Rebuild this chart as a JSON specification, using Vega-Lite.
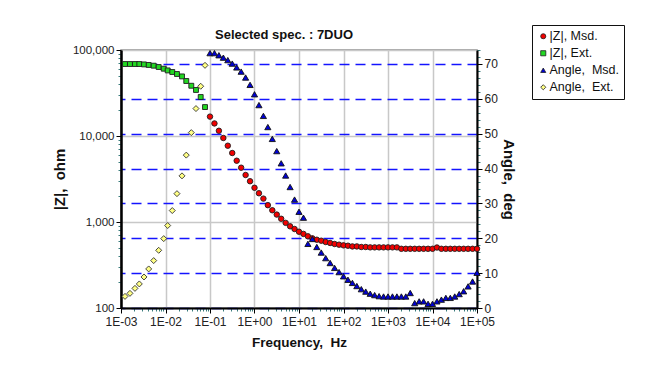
{
  "$schema": "https://vega.github.io/schema/vega-lite/v6.json",
  "width": 356,
  "height": 258,
  "autosize": {"type": "none"},
  "padding": {"left": 121, "top": 50, "right": 186, "bottom": 66},
  "background": "white",
  "title": {"text": "Selected spec. : 7DUO", "font": "Liberation Sans", "fontSize": 13, "fontWeight": "bold", "color": "#111111", "anchor": "middle", "dx": -15, "dy": 26, "offset": 9},
  "data": {"values": [
    {"f": 0.00123, "v": 68700, "s": "|Z|, Ext."},
    {"f": 0.00159, "v": 68700, "s": "|Z|, Ext."},
    {"f": 0.00206, "v": 68700, "s": "|Z|, Ext."},
    {"f": 0.00258, "v": 68700, "s": "|Z|, Ext."},
    {"f": 0.00329, "v": 68000, "s": "|Z|, Ext."},
    {"f": 0.00419, "v": 67000, "s": "|Z|, Ext."},
    {"f": 0.00543, "v": 65700, "s": "|Z|, Ext."},
    {"f": 0.00703, "v": 63400, "s": "|Z|, Ext."},
    {"f": 0.00912, "v": 60600, "s": "|Z|, Ext."},
    {"f": 0.0112, "v": 57900, "s": "|Z|, Ext."},
    {"f": 0.0142, "v": 55500, "s": "|Z|, Ext."},
    {"f": 0.0181, "v": 52600, "s": "|Z|, Ext."},
    {"f": 0.0235, "v": 49300, "s": "|Z|, Ext."},
    {"f": 0.0293, "v": 43600, "s": "|Z|, Ext."},
    {"f": 0.038, "v": 38400, "s": "|Z|, Ext."},
    {"f": 0.0484, "v": 34300, "s": "|Z|, Ext."},
    {"f": 0.0618, "v": 28400, "s": "|Z|, Ext."},
    {"f": 0.0773, "v": 21700, "s": "|Z|, Ext."},

    {"f": 0.00123, "v": 3.33, "s": "Angle, \u00a0Ext."},
    {"f": 0.00159, "v": 4.2, "s": "Angle, \u00a0Ext."},
    {"f": 0.00206, "v": 5.63, "s": "Angle, \u00a0Ext."},
    {"f": 0.00258, "v": 6.9, "s": "Angle, \u00a0Ext."},
    {"f": 0.00329, "v": 8.9, "s": "Angle, \u00a0Ext."},
    {"f": 0.00419, "v": 11.2, "s": "Angle, \u00a0Ext."},
    {"f": 0.00543, "v": 13.6, "s": "Angle, \u00a0Ext."},
    {"f": 0.00703, "v": 16.55, "s": "Angle, \u00a0Ext."},
    {"f": 0.00912, "v": 19.9, "s": "Angle, \u00a0Ext."},
    {"f": 0.0112, "v": 23.65, "s": "Angle, \u00a0Ext."},
    {"f": 0.0142, "v": 27.95, "s": "Angle, \u00a0Ext."},
    {"f": 0.0181, "v": 32.8, "s": "Angle, \u00a0Ext."},
    {"f": 0.0235, "v": 37.9, "s": "Angle, \u00a0Ext."},
    {"f": 0.0293, "v": 43.85, "s": "Angle, \u00a0Ext."},
    {"f": 0.038, "v": 50.3, "s": "Angle, \u00a0Ext."},
    {"f": 0.0484, "v": 57.2, "s": "Angle, \u00a0Ext."},
    {"f": 0.0618, "v": 63.6, "s": "Angle, \u00a0Ext."},
    {"f": 0.0773, "v": 69.6, "s": "Angle, \u00a0Ext."},

    {"f": 0.1, "v": 16800, "s": "|Z|, Msd."},
    {"f": 0.1259, "v": 14000, "s": "|Z|, Msd."},
    {"f": 0.1585, "v": 11500, "s": "|Z|, Msd."},
    {"f": 0.1995, "v": 9480, "s": "|Z|, Msd."},
    {"f": 0.2512, "v": 7710, "s": "|Z|, Msd."},
    {"f": 0.3162, "v": 6340, "s": "|Z|, Msd."},
    {"f": 0.3981, "v": 5160, "s": "|Z|, Msd."},
    {"f": 0.5012, "v": 4280, "s": "|Z|, Msd."},
    {"f": 0.631, "v": 3520, "s": "|Z|, Msd."},
    {"f": 0.7943, "v": 2980, "s": "|Z|, Msd."},
    {"f": 1, "v": 2500, "s": "|Z|, Msd."},
    {"f": 1.259, "v": 2160, "s": "|Z|, Msd."},
    {"f": 1.585, "v": 1870, "s": "|Z|, Msd."},
    {"f": 1.995, "v": 1570, "s": "|Z|, Msd."},
    {"f": 2.512, "v": 1370, "s": "|Z|, Msd."},
    {"f": 3.162, "v": 1220, "s": "|Z|, Msd."},
    {"f": 3.981, "v": 1090, "s": "|Z|, Msd."},
    {"f": 5.012, "v": 977, "s": "|Z|, Msd."},
    {"f": 6.31, "v": 891, "s": "|Z|, Msd."},
    {"f": 7.943, "v": 829, "s": "|Z|, Msd."},
    {"f": 10, "v": 771, "s": "|Z|, Msd."},
    {"f": 12.59, "v": 727, "s": "|Z|, Msd."},
    {"f": 15.85, "v": 682, "s": "|Z|, Msd."},
    {"f": 19.95, "v": 646, "s": "|Z|, Msd."},
    {"f": 25.12, "v": 622, "s": "|Z|, Msd."},
    {"f": 31.62, "v": 606, "s": "|Z|, Msd."},
    {"f": 39.81, "v": 585, "s": "|Z|, Msd."},
    {"f": 50.12, "v": 570, "s": "|Z|, Msd."},
    {"f": 63.1, "v": 555, "s": "|Z|, Msd."},
    {"f": 79.43, "v": 545, "s": "|Z|, Msd."},
    {"f": 100, "v": 535, "s": "|Z|, Msd."},
    {"f": 125.9, "v": 530, "s": "|Z|, Msd."},
    {"f": 158.5, "v": 520, "s": "|Z|, Msd."},
    {"f": 199.5, "v": 520, "s": "|Z|, Msd."},
    {"f": 251.2, "v": 512, "s": "|Z|, Msd."},
    {"f": 316.2, "v": 512, "s": "|Z|, Msd."},
    {"f": 398.1, "v": 507, "s": "|Z|, Msd."},
    {"f": 501.2, "v": 507, "s": "|Z|, Msd."},
    {"f": 631, "v": 507, "s": "|Z|, Msd."},
    {"f": 794.3, "v": 507, "s": "|Z|, Msd."},
    {"f": 1000, "v": 507, "s": "|Z|, Msd."},
    {"f": 1259, "v": 507, "s": "|Z|, Msd."},
    {"f": 1585, "v": 507, "s": "|Z|, Msd."},
    {"f": 1995, "v": 488, "s": "|Z|, Msd."},
    {"f": 2512, "v": 488, "s": "|Z|, Msd."},
    {"f": 3162, "v": 488, "s": "|Z|, Msd."},
    {"f": 3981, "v": 488, "s": "|Z|, Msd."},
    {"f": 5012, "v": 488, "s": "|Z|, Msd."},
    {"f": 6310, "v": 488, "s": "|Z|, Msd."},
    {"f": 7943, "v": 488, "s": "|Z|, Msd."},
    {"f": 10000, "v": 488, "s": "|Z|, Msd."},
    {"f": 12589, "v": 505, "s": "|Z|, Msd."},
    {"f": 15849, "v": 488, "s": "|Z|, Msd."},
    {"f": 19953, "v": 488, "s": "|Z|, Msd."},
    {"f": 25119, "v": 488, "s": "|Z|, Msd."},
    {"f": 31623, "v": 488, "s": "|Z|, Msd."},
    {"f": 39811, "v": 488, "s": "|Z|, Msd."},
    {"f": 50119, "v": 488, "s": "|Z|, Msd."},
    {"f": 63096, "v": 488, "s": "|Z|, Msd."},
    {"f": 79433, "v": 488, "s": "|Z|, Msd."},
    {"f": 100000, "v": 488, "s": "|Z|, Msd."},

    {"f": 0.1, "v": 73.1, "s": "Angle, \u00a0Msd."},
    {"f": 0.1259, "v": 73.1, "s": "Angle, \u00a0Msd."},
    {"f": 0.1585, "v": 72.5, "s": "Angle, \u00a0Msd."},
    {"f": 0.1995, "v": 71.8, "s": "Angle, \u00a0Msd."},
    {"f": 0.2512, "v": 71.1, "s": "Angle, \u00a0Msd."},
    {"f": 0.3162, "v": 70.1, "s": "Angle, \u00a0Msd."},
    {"f": 0.3981, "v": 69.0, "s": "Angle, \u00a0Msd."},
    {"f": 0.5012, "v": 67.8, "s": "Angle, \u00a0Msd."},
    {"f": 0.631, "v": 66.1, "s": "Angle, \u00a0Msd."},
    {"f": 0.7943, "v": 64.0, "s": "Angle, \u00a0Msd."},
    {"f": 1, "v": 61.3, "s": "Angle, \u00a0Msd."},
    {"f": 1.259, "v": 58.2, "s": "Angle, \u00a0Msd."},
    {"f": 1.585, "v": 55.1, "s": "Angle, \u00a0Msd."},
    {"f": 1.995, "v": 51.9, "s": "Angle, \u00a0Msd."},
    {"f": 2.512, "v": 48.5, "s": "Angle, \u00a0Msd."},
    {"f": 3.162, "v": 45.0, "s": "Angle, \u00a0Msd."},
    {"f": 3.981, "v": 41.5, "s": "Angle, \u00a0Msd."},
    {"f": 5.012, "v": 38.0, "s": "Angle, \u00a0Msd."},
    {"f": 6.31, "v": 34.7, "s": "Angle, \u00a0Msd."},
    {"f": 7.943, "v": 31.1, "s": "Angle, \u00a0Msd."},
    {"f": 10, "v": 27.6, "s": "Angle, \u00a0Msd."},
    {"f": 12.59, "v": 25.9, "s": "Angle, \u00a0Msd."},
    {"f": 15.85, "v": 18.4, "s": "Angle, \u00a0Msd."},
    {"f": 19.95, "v": 19.8, "s": "Angle, \u00a0Msd."},
    {"f": 25.12, "v": 17.5, "s": "Angle, \u00a0Msd."},
    {"f": 31.62, "v": 15.9, "s": "Angle, \u00a0Msd."},
    {"f": 39.81, "v": 14.3, "s": "Angle, \u00a0Msd."},
    {"f": 50.12, "v": 12.9, "s": "Angle, \u00a0Msd."},
    {"f": 63.1, "v": 11.5, "s": "Angle, \u00a0Msd."},
    {"f": 79.43, "v": 10.3, "s": "Angle, \u00a0Msd."},
    {"f": 100, "v": 9.1, "s": "Angle, \u00a0Msd."},
    {"f": 125.9, "v": 8.1, "s": "Angle, \u00a0Msd."},
    {"f": 158.5, "v": 7.2, "s": "Angle, \u00a0Msd."},
    {"f": 199.5, "v": 6.3, "s": "Angle, \u00a0Msd."},
    {"f": 251.2, "v": 5.4, "s": "Angle, \u00a0Msd."},
    {"f": 316.2, "v": 4.7, "s": "Angle, \u00a0Msd."},
    {"f": 398.1, "v": 4.1, "s": "Angle, \u00a0Msd."},
    {"f": 501.2, "v": 3.7, "s": "Angle, \u00a0Msd."},
    {"f": 631, "v": 3.4, "s": "Angle, \u00a0Msd."},
    {"f": 794.3, "v": 3.3, "s": "Angle, \u00a0Msd."},
    {"f": 1000, "v": 3.3, "s": "Angle, \u00a0Msd."},
    {"f": 1259, "v": 3.3, "s": "Angle, \u00a0Msd."},
    {"f": 1585, "v": 3.3, "s": "Angle, \u00a0Msd."},
    {"f": 1995, "v": 3.3, "s": "Angle, \u00a0Msd."},
    {"f": 2512, "v": 3.3, "s": "Angle, \u00a0Msd."},
    {"f": 3162, "v": 4.3, "s": "Angle, \u00a0Msd."},
    {"f": 3981, "v": 1.4, "s": "Angle, \u00a0Msd."},
    {"f": 5012, "v": 1.9, "s": "Angle, \u00a0Msd."},
    {"f": 6310, "v": 1.9, "s": "Angle, \u00a0Msd."},
    {"f": 7943, "v": 1.2, "s": "Angle, \u00a0Msd."},
    {"f": 10000, "v": 1.2, "s": "Angle, \u00a0Msd."},
    {"f": 12589, "v": 1.9, "s": "Angle, \u00a0Msd."},
    {"f": 15849, "v": 2.4, "s": "Angle, \u00a0Msd."},
    {"f": 19953, "v": 2.9, "s": "Angle, \u00a0Msd."},
    {"f": 25119, "v": 2.9, "s": "Angle, \u00a0Msd."},
    {"f": 31623, "v": 3.3, "s": "Angle, \u00a0Msd."},
    {"f": 39811, "v": 4.0, "s": "Angle, \u00a0Msd."},
    {"f": 50119, "v": 4.8, "s": "Angle, \u00a0Msd."},
    {"f": 63096, "v": 6.2, "s": "Angle, \u00a0Msd."},
    {"f": 79433, "v": 7.6, "s": "Angle, \u00a0Msd."},
    {"f": 100000, "v": 10.1, "s": "Angle, \u00a0Msd."}
  ]},
  "encoding": {
    "x": {
      "field": "f",
      "type": "quantitative",
      "scale": {"type": "log", "domain": [0.001, 100000], "nice": false},
      "axis": {
        "title": "Frequency, \u00a0Hz",
        "values": [0.001,0.002,0.003,0.004,0.005,0.006,0.007,0.008,0.009,0.01,0.02,0.03,0.04,0.05,0.06,0.07,0.08,0.09,0.1,0.2,0.3,0.4,0.5,0.6,0.7,0.8,0.9,1,2,3,4,5,6,7,8,9,10,20,30,40,50,60,70,80,90,100,200,300,400,500,600,700,800,900,1000,2000,3000,4000,5000,6000,7000,8000,9000,10000,20000,30000,40000,50000,60000,70000,80000,90000,100000],
        "labelExpr": "abs(log(datum.value)/LN10 - round(log(datum.value)/LN10)) < 0.001 ? '1E' + (round(log(datum.value)/LN10) < 0 ? '-' : '+') + (abs(round(log(datum.value)/LN10)) < 10 ? '0' : '') + abs(round(log(datum.value)/LN10)) : ''",
        "labelFlush": false,
        "labelOverlap": false,
        "labelFontSize": 12,
        "labelPadding": 3,
        "tickSize": {"condition": {"test": "abs(log(datum.value)/LN10 - round(log(datum.value)/LN10)) < 0.001", "value": 5}, "value": 3},
        "tickColor": {"condition": {"test": "abs(log(datum.value)/LN10 - round(log(datum.value)/LN10)) < 0.001", "value": "#000000"}, "value": "#3a7d7d"},
        "grid": true,
        "gridColor": "#c8c8c8",
        "gridWidth": 1.5,
        "gridOpacity": {"condition": {"test": "abs(log(datum.value)/LN10 - round(log(datum.value)/LN10)) < 0.001", "value": 1}, "value": 0},
        "domainWidth": 2,
        "titleFontSize": 13.5,
        "titlePadding": 8
      }
    },
    "color": {
      "field": "s",
      "type": "nominal",
      "scale": {
        "domain": ["|Z|, Msd.", "|Z|, Ext.", "Angle, \u00a0Msd.", "Angle, \u00a0Ext."],
        "range": ["#f20000", "#22d822", "#0000d4", "#ffff84"]
      },
      "legend": {
        "title": null,
        "orient": "none",
        "legendX": 411,
        "legendY": -25,
        "strokeColor": "#111111",
        "fillColor": "white",
        "padding": 5,
        "labelFontSize": 12.5,
        "labelOffset": 0,
        "rowPadding": 4,
        "symbolSize": 26,
        "symbolStrokeColor": "#222222",
        "symbolStrokeWidth": 0.8,
        "symbolOpacity": 1
      }
    },
    "shape": {
      "field": "s",
      "type": "nominal",
      "scale": {
        "domain": ["|Z|, Msd.", "|Z|, Ext.", "Angle, \u00a0Msd.", "Angle, \u00a0Ext."],
        "range": ["circle", "square", "triangle-up", "diamond"]
      }
    }
  },
  "layer": [
    {
      "encoding": {
        "y": {
          "field": "v",
          "type": "quantitative",
          "scale": {"type": "log", "domain": [100, 100000], "nice": false},
          "axis": {
            "title": "|Z|, \u00a0ohm",
            "values": [100,200,300,400,500,600,700,800,900,1000,2000,3000,4000,5000,6000,7000,8000,9000,10000,20000,30000,40000,50000,60000,70000,80000,90000,100000],
            "labelExpr": "abs(log(datum.value)/LN10 - round(log(datum.value)/LN10)) < 0.001 ? format(datum.value, ',') : ''",
            "labelFlush": false,
            "labelOverlap": false,
            "labelFontSize": 11.5,
            "labelPadding": 2,
            "tickSize": {"condition": {"test": "abs(log(datum.value)/LN10 - round(log(datum.value)/LN10)) < 0.001", "value": 5}, "value": 3},
            "tickColor": {"condition": {"test": "abs(log(datum.value)/LN10 - round(log(datum.value)/LN10)) < 0.001", "value": "#000000"}, "value": "#3a7d7d"},
            "grid": true,
            "gridColor": "#c8c8c8",
            "gridWidth": 1.5,
            "gridOpacity": {"condition": {"test": "abs(log(datum.value)/LN10 - round(log(datum.value)/LN10)) < 0.001", "value": 1}, "value": 0},
            "domainWidth": 2.5,
            "titleFontSize": 15,
            "titlePadding": 5
          }
        }
      },
      "layer": [
        {
          "transform": [{"filter": {"field": "s", "equal": "|Z|, Ext."}}],
          "mark": {"type": "point", "filled": true, "opacity": 1, "size": 24, "stroke": "#1e1e1e", "strokeWidth": 0.9}
        },
        {
          "transform": [{"filter": {"field": "s", "equal": "|Z|, Msd."}}],
          "mark": {"type": "point", "filled": true, "opacity": 1, "size": 30, "stroke": "#1e1e1e", "strokeWidth": 0.9}
        }
      ]
    },
    {
      "encoding": {
        "y": {
          "field": "v",
          "type": "quantitative",
          "scale": {"type": "linear", "domain": [0, 74], "nice": false, "zero": false},
          "axis": {
            "orient": "right",
            "title": "Angle, \u00a0deg",
            "values": [0,2,4,6,8,10,12,14,16,18,20,22,24,26,28,30,32,34,36,38,40,42,44,46,48,50,52,54,56,58,60,62,64,66,68,70,72,74],
            "labelExpr": "datum.value % 10 === 0 ? datum.label : ''",
            "labelFlush": false,
            "labelOverlap": false,
            "labelFontSize": 12,
            "labelPadding": 2,
            "tickSize": {"condition": {"test": "datum.value % 10 === 0", "value": 5}, "value": 3},
            "tickColor": {"condition": {"test": "datum.value % 10 === 0", "value": "#000000"}, "value": "#3a7d7d"},
            "grid": true,
            "gridColor": "#1414ff",
            "gridDash": [10, 6],
            "gridWidth": 1.3,
            "gridOpacity": {"condition": {"test": "datum.value % 10 === 0", "value": 1}, "value": 0},
            "domainWidth": 2,
            "titleFontSize": 15,
            "titlePadding": 3
          }
        }
      },
      "layer": [
        {
          "transform": [{"filter": {"field": "s", "equal": "Angle, \u00a0Msd."}}],
          "mark": {"type": "point", "filled": true, "opacity": 1, "size": 38, "stroke": "#111111", "strokeWidth": 0.9}
        },
        {
          "transform": [{"filter": {"field": "s", "equal": "Angle, \u00a0Ext."}}],
          "mark": {"type": "point", "filled": true, "opacity": 1, "size": 36, "stroke": "#333333", "strokeWidth": 0.9}
        }
      ]
    }
  ],
  "resolve": {"scale": {"y": "independent"}},
  "config": {
    "font": "Liberation Sans",
    "view": {"stroke": "#8a8a8a", "strokeWidth": 1.5},
    "axis": {
      "labelFont": "Liberation Sans",
      "labelColor": "#222222",
      "titleFont": "Liberation Sans",
      "titleFontSize": 14,
      "titleFontWeight": "bold",
      "titleColor": "#111111",
      "domainColor": "#000000",
      "tickWidth": 1
    },
    "legend": {"labelFont": "Liberation Sans", "labelColor": "#111111"}
  }
}
